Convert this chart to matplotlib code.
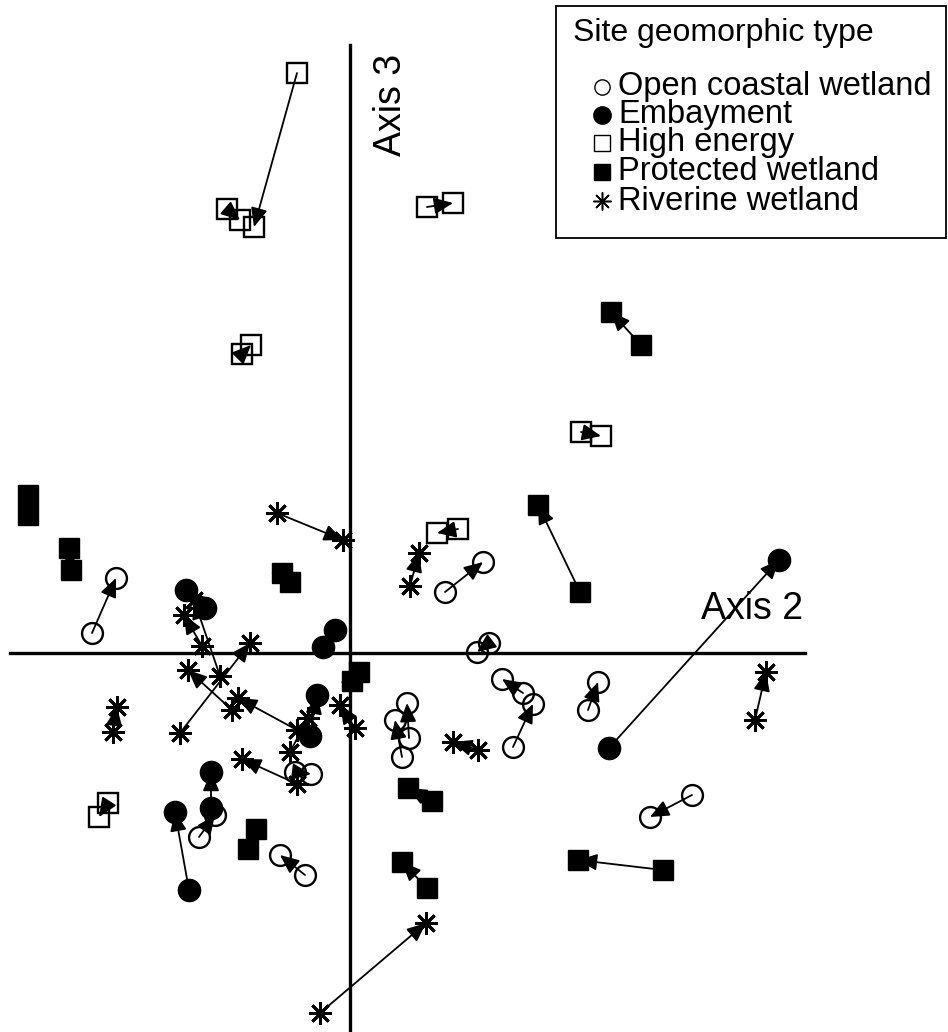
import matplotlib
matplotlib.use('Agg')
import matplotlib.pyplot as plt
from matplotlib.patches import Rectangle

plt.rcParams['font.family'] = ['Liberation Sans', 'DejaVu Sans']

# ordination scores, each row: start x, start y, end x, end y (arrow points to end)
open_coastal = [
    (-2.58, 0.20, -2.34, 0.75),
    (0.95, 0.61, 1.33, 0.91),
    (1.39, 0.10, 1.27, 0.01),
    (1.73, -0.40, 1.52, -0.26),
    (1.63, -0.94, 1.83, -0.51),
    (2.38, -0.57, 2.48, -0.29),
    (0.52, -1.04, 0.45, -0.67),
    (0.59, -0.85, 0.57, -0.50),
    (3.42, -1.42, 3.00, -1.64),
    (-0.45, -2.22, -0.70, -2.02),
    (-1.51, -1.84, -1.35, -1.62),
    (-0.55, -1.19, -0.39, -1.21),
]
embayment = [
    (2.59, -0.95, 4.29, 0.93),
    (-1.45, 0.45, -1.64, 0.63),
    (-0.27, 0.06, -0.15, 0.23),
    (-0.40, -0.83, -0.33, -0.42),
    (-1.39, -1.55, -1.39, -1.19),
    (-1.61, -2.37, -1.75, -1.59),
]
high_energy = [
    (-0.53, 5.80, -0.96, 4.26),
    (-1.23, 4.44, -1.10, 4.33),
    (-1.08, 2.99, -0.99, 3.08),
    (0.77, 4.46, 1.03, 4.50),
    (2.31, 2.21, 2.51, 2.17),
    (1.08, 1.24, 0.87, 1.20),
    (-2.42, -1.50, -2.51, -1.64),
]
protected = [
    (-3.22, 1.58, -3.22, 1.38),
    (-2.81, 1.05, -2.79, 0.83),
    (-0.68, 0.80, -0.60, 0.71),
    (2.91, 3.08, 2.61, 3.41),
    (2.30, 0.61, 1.88, 1.48),
    (0.02, -0.28, 0.09, -0.19),
    (0.82, -1.48, 0.58, -1.35),
    (0.77, -2.35, 0.52, -2.09),
    (3.13, -2.17, 2.28, -2.07),
    (-0.94, -1.76, -1.02, -1.96),
]
riverine = [
    (-0.73, 1.40, -0.07, 1.13),
    (0.60, 0.67, 0.69, 1.00),
    (1.28, -0.97, 1.03, -0.89),
    (4.05, -0.67, 4.16, -0.19),
    (-0.30, -3.60, 0.76, -2.70),
    (-2.37, -0.79, -2.33, -0.54),
    (-1.70, -0.80, -1.00, 0.10),
    (-0.53, -0.77, -1.12, -0.45),
    (-1.18, -0.57, -1.62, -0.17),
    (0.05, -0.75, -0.10, -0.52),
    (-0.60, -0.99, -0.42, -0.65),
    (-0.53, -1.31, -1.08, -1.06),
    (-1.48, 0.07, -1.66, 0.38),
    (-1.30, -0.23, -1.56, 0.53),
]

legend_title = "Site geomorphic type"
legend_labels = ["Open coastal wetland", "Embayment", "High energy",
                 "Protected wetland", "Riverine wetland"]

star = (8, 2, 0)
styles = [
    (open_coastal, dict(marker='o', ms=15, mfc='none', mec='k', mew=1.7), 2),
    (embayment, dict(marker='o', ms=16, mfc='k', mec='k', mew=1), 5),
    (high_energy, dict(marker='s', ms=14, mfc='none', mec='k', mew=1.7), 2),
    (protected, dict(marker='s', ms=15, mfc='k', mec='k', mew=1), 5),
    (riverine, dict(marker=star, ms=16.5, mec='k', mew=2.0), 2),
]

fig = plt.figure(figsize=(9.48, 10.32), dpi=100)
ax = fig.add_axes([0, 0, 1, 1])
ax.set_xlim(-3.5, 5.98)
ax.set_ylim(-3.79, 6.53)
ax.axis('off')

# axes of the ordination
ax.plot([-3.40, 4.55], [0, 0], color='k', lw=2.4, zorder=1)
ax.plot([0, 0], [-3.79, 6.08], color='k', lw=2.4, zorder=1)
ax.text(4.53, 0.26, "Axis 2", fontsize=27, ha='right', va='bottom')
ax.text(0.41, 5.48, "Axis 3", fontsize=27, rotation=90, ha='center', va='center')

for data, st, z in styles:
    for x0, y0, x1, y1 in data:
        ax.plot([x0, x1], [y0, y1], ls='none', zorder=z, **st)
        ax.annotate('', xy=(x1, y1), xytext=(x0, y0),
                    arrowprops=dict(arrowstyle='-|>,head_length=0.55,head_width=0.24',
                                    mutation_scale=21, color='k', lw=1.3,
                                    shrinkA=0, shrinkB=0),
                    zorder=3)

# legend box
W, H = 948.0, 1032.0
ax.add_patch(Rectangle((556 / W, 1 - 238 / H), (946 - 556) / W, (238 - 6) / H,
                       transform=ax.transAxes, fc='white', ec='k', lw=1.3, zorder=10))
ax.text(573 / W, 1 - 33 / H, legend_title, transform=ax.transAxes,
        fontsize=23, va='center', ha='left', zorder=11)
leg_marks = [
    dict(marker='o', ms=11, mfc='none', mec='k', mew=1.0),
    dict(marker='o', ms=12.5, mfc='k', mec='k'),
    dict(marker='s', ms=11.5, mfc='none', mec='k', mew=1.0),
    dict(marker='s', ms=12, mfc='k', mec='k'),
    dict(marker=star, ms=13, mec='k', mew=1.1),
]
leg_y = [87, 115, 143, 172, 201]
for lab, mk, yy in zip(legend_labels, leg_marks, leg_y):
    ax.plot([602 / W], [1 - yy / H], transform=ax.transAxes, ls='none',
            clip_on=False, zorder=11, **mk)
    ax.text(618 / W, 1 - yy / H, lab, transform=ax.transAxes,
            fontsize=23.5, va='center', ha='left', zorder=11)

fig.savefig("out.png", dpi=100)
